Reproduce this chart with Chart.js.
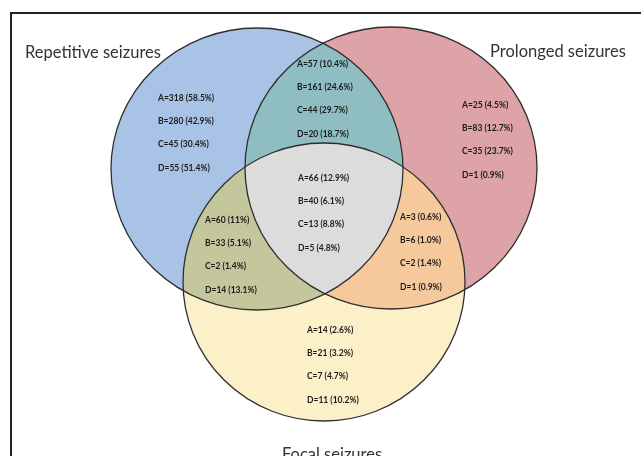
<!DOCTYPE html>
<html>
<head>
<meta charset="utf-8">
<script src="https://cdn.jsdelivr.net/npm/chart.js@4.4.1/dist/chart.umd.min.js"></script>
<style>
  html, body { margin: 0; padding: 0; background: #ffffff; }
  #wrap { width: 641px; height: 456px; overflow: hidden; }
</style>
</head>
<body>
<div id="wrap"><canvas id="c" width="641" height="456"></canvas></div>
<script>
// ---- Data ----
const sets = ['Repetitive seizures', 'Prolonged seizures', 'Focal seizures'];
const regions = ['Repetitive only', 'Prolonged only', 'Focal only',
                 'Repetitive+Prolonged', 'Repetitive+Focal', 'Prolonged+Focal', 'All three'];
const groups = ['A', 'B', 'C', 'D'];
const countsA = [318, 25, 14, 57, 60, 3, 66];
const pctA    = ['58.5', '4.5', '2.6', '10.4', '11', '0.6', '12.9'];
const countsB = [280, 83, 21, 161, 33, 6, 40];
const pctB    = ['42.9', '12.7', '3.2', '24.6', '5.1', '1.0', '6.1'];
const countsC = [45, 35, 7, 44, 2, 2, 13];
const pctC    = ['30.4', '23.7', '4.7', '29.7', '1.4', '1.4', '8.8'];
const countsD = [55, 1, 11, 20, 14, 1, 5];
const pctD    = ['51.4', '0.9', '10.2', '18.7', '13.1', '0.9', '4.8'];

// ---- Layout (data-space units; axes span the canvas) ----
const ellipses = [
  { cx: 257, cy: 169, rx: 146, ry: 141 },   // Repetitive
  { cx: 391, cy: 168, rx: 146, ry: 141 },   // Prolonged
  { cx: 324, cy: 282, rx: 141, ry: 139 }    // Focal
];
const setColors = ['#a9c3e6', '#dda3a6', '#fcf0c8'];
const pairColors = { '01': '#8fbec2', '02': '#c4c79c', '12': '#f6c99c' };
const tripleColor = '#dcdcdc';
const regionAnchors = [
  { x: 158, y: 98 }, { x: 462, y: 105 }, { x: 307, y: 330 },
  { x: 297, y: 64 }, { x: 205, y: 220 }, { x: 400, y: 217 }, { x: 298, y: 178 }
];
const lineGap = 23.3;
const setLabelPos = [
  { x: 25, y: 58, align: 'left' },
  { x: 490, y: 57, align: 'left' },
  { x: 332, y: 460, align: 'center' }
];

const allCounts = [countsA, countsB, countsC, countsD];
const allPcts = [pctA, pctB, pctC, pctD];

const vennPlugin = {
  id: 'venn',
  beforeDatasetsDraw(chart) {
    const ctx = chart.ctx;
    const xs = chart.scales.x, ys = chart.scales.y;
    const px = v => xs.getPixelForValue(v);
    const py = v => ys.getPixelForValue(v);
    const path = (e) => {
      ctx.beginPath();
      const cx = px(e.cx), cy = py(e.cy);
      const rx = Math.abs(px(e.cx + e.rx) - cx), ry = Math.abs(py(e.cy + e.ry) - cy);
      ctx.ellipse(cx, cy, rx, ry, 0, 0, Math.PI * 2);
    };
    ctx.save();
    // frame
    ctx.strokeStyle = '#222';
    ctx.lineWidth = 2;
    ctx.beginPath();
    ctx.moveTo(px(11), py(460));
    ctx.lineTo(px(11), py(13));
    ctx.lineTo(px(645), py(13));
    ctx.stroke();

    // base fills
    ellipses.forEach((e, i) => { path(e); ctx.fillStyle = setColors[i]; ctx.fill(); });
    // pair fills
    [[0, 1], [0, 2], [1, 2]].forEach(([a, b]) => {
      ctx.save();
      path(ellipses[a]); ctx.clip();
      path(ellipses[b]); ctx.fillStyle = pairColors['' + a + b]; ctx.fill();
      ctx.restore();
    });
    // triple
    ctx.save();
    path(ellipses[0]); ctx.clip();
    path(ellipses[1]); ctx.clip();
    path(ellipses[2]); ctx.fillStyle = tripleColor; ctx.fill();
    ctx.restore();
    // outlines
    ctx.strokeStyle = '#2e2e2e';
    ctx.lineWidth = 1.3;
    ellipses.forEach(e => { path(e); ctx.stroke(); });

    // region text
    ctx.fillStyle = '#1a1a1a';
    ctx.font = 'bold 8.5px Lato, "Open Sans", sans-serif';
    ctx.textAlign = 'left';
    ctx.textBaseline = 'middle';
    regions.forEach((r, i) => {
      const a = regionAnchors[i];
      groups.forEach((g, k) => {
        const t = g + '=' + allCounts[k][i] + ' (' + allPcts[k][i] + '%)';
        ctx.fillText(t, px(a.x), py(a.y + k * lineGap));
      });
    });

    // set labels
    ctx.fillStyle = '#333';
    ctx.font = '16.5px Lato, "Open Sans", sans-serif';
    ctx.textBaseline = 'alphabetic';
    sets.forEach((s, i) => {
      const p = setLabelPos[i];
      ctx.textAlign = p.align;
      ctx.fillText(s, px(p.x), py(p.y));
    });
    ctx.restore();
  }
};

new Chart(document.getElementById('c'), {
  type: 'scatter',
  data: {
    datasets: [{
      label: 'regions',
      data: regionAnchors.map(a => ({ x: a.x, y: a.y })),
      pointRadius: 0,
      pointHoverRadius: 0
    }]
  },
  options: {
    responsive: false,
    animation: false,
    events: [],
    layout: { padding: 0 },
    plugins: { legend: { display: false }, tooltip: { enabled: false } },
    scales: {
      x: { type: 'linear', min: 0, max: 641, display: false },
      y: { type: 'linear', min: 0, max: 456, reverse: true, display: false }
    }
  },
  plugins: [vennPlugin]
});
</script>
</body>
</html>
